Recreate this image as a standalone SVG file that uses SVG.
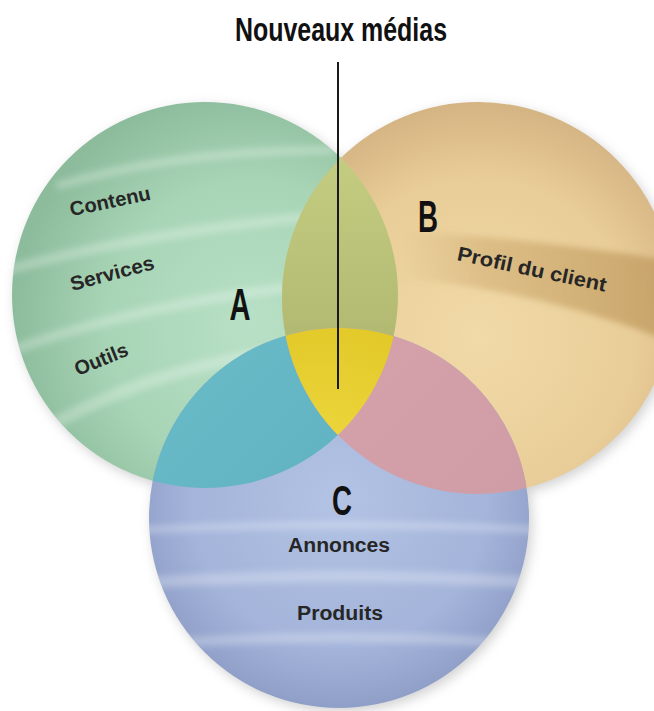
<svg xmlns="http://www.w3.org/2000/svg" width="654" height="711" viewBox="0 0 654 711">
  <style>
    .lbl { font-family: "Liberation Sans", "DejaVu Sans", sans-serif; font-weight: bold; fill: #262626; font-size: 20px; }
    .big { font-family: "Liberation Sans", "DejaVu Sans", sans-serif; font-weight: bold; fill: #111; }
    .band { fill: none; stroke: #ffffff; stroke-opacity: 0.26; stroke-linecap: round; }
  </style>
  <defs>
    <filter id="shadow" x="-20%" y="-20%" width="140%" height="140%">
      <feGaussianBlur stdDeviation="6"/>
    </filter>
    <filter id="soft" x="-20%" y="-50%" width="140%" height="200%">
      <feGaussianBlur stdDeviation="3"/>
    </filter>
    <clipPath id="clipA"><circle cx="205" cy="295" r="193"/></clipPath>
    <clipPath id="clipB"><circle cx="478" cy="298" r="196"/></clipPath>
    <clipPath id="clipC"><circle cx="339" cy="518" r="190"/></clipPath>
    <radialGradient id="gA" cx="0.62" cy="0.58" r="0.62">
      <stop offset="0" stop-color="#b8e0c6"/>
      <stop offset="0.6" stop-color="#a8d5b6"/>
      <stop offset="1" stop-color="#8cbc9c"/>
    </radialGradient>
    <radialGradient id="gB" cx="0.5" cy="0.6" r="0.62">
      <stop offset="0" stop-color="#f1daa8"/>
      <stop offset="0.65" stop-color="#e9cd98"/>
      <stop offset="1" stop-color="#d2b180"/>
    </radialGradient>
    <radialGradient id="gC" cx="0.5" cy="0.45" r="0.6">
      <stop offset="0" stop-color="#b2c3e4"/>
      <stop offset="0.65" stop-color="#a4b4da"/>
      <stop offset="1" stop-color="#8898c2"/>
    </radialGradient>
    <linearGradient id="gAB" x1="0" y1="0" x2="0" y2="1">
      <stop offset="0" stop-color="#c8d284"/>
      <stop offset="0.55" stop-color="#b4bc74"/>
      <stop offset="1" stop-color="#949c5c"/>
    </linearGradient>
    <linearGradient id="gAC" x1="0" y1="0" x2="1" y2="1">
      <stop offset="0" stop-color="#6cbcc8"/>
      <stop offset="1" stop-color="#52a8bc"/>
    </linearGradient>
    <linearGradient id="gBC" x1="0" y1="0" x2="1" y2="1">
      <stop offset="0" stop-color="#d8a4ac"/>
      <stop offset="1" stop-color="#cc9aa4"/>
    </linearGradient>
    <radialGradient id="gABC" cx="0.45" cy="0.45" r="0.7">
      <stop offset="0" stop-color="#f0dc44"/>
      <stop offset="0.7" stop-color="#e2c828"/>
      <stop offset="1" stop-color="#bfae2c"/>
    </radialGradient>
    <linearGradient id="gBand" x1="0" y1="0" x2="1" y2="0">
      <stop offset="0" stop-color="#cca86c" stop-opacity="0"/>
      <stop offset="0.3" stop-color="#cca86c" stop-opacity="0.5"/>
      <stop offset="1" stop-color="#c09c60" stop-opacity="0.85"/>
    </linearGradient>
  </defs>

  <rect width="654" height="711" fill="#ffffff"/>

  <!-- shadows -->
  <g id="shadows" filter="url(#shadow)" fill="#9a9a9a" opacity="0.45">
    <circle cx="208" cy="299" r="193"/>
    <circle cx="481" cy="302" r="196"/>
    <circle cx="342" cy="522" r="190"/>
  </g>

  <g id="node-a">
    <circle cx="205" cy="295" r="193" fill="url(#gA)"/>
    <g clip-path="url(#clipA)" filter="url(#soft)">
      <path class="band" stroke-width="9" d="M 60 185 Q 180 150 330 150"/>
      <path class="band" stroke-width="10" d="M 0 272 Q 140 232 330 215"/>
      <path class="band" stroke-width="10" d="M 0 355 Q 130 305 310 285"/>
      <path class="band" stroke-width="12" d="M 40 432 Q 160 360 330 345"/>
    </g>
  </g>

  <g id="node-b">
    <circle cx="478" cy="298" r="196" fill="url(#gB)"/>
    <g clip-path="url(#clipB)">
      <path d="M 400 232 Q 520 236 680 262 L 680 345 Q 540 290 400 278 Z" fill="url(#gBand)" filter="url(#soft)"/>
    </g>
  </g>

  <g id="node-c">
    <circle cx="339" cy="518" r="190" fill="url(#gC)"/>
    <g clip-path="url(#clipC)" filter="url(#soft)">
      <path class="band" stroke-width="8" d="M 140 530 Q 340 520 540 530"/>
      <path class="band" stroke-width="12" d="M 140 583 Q 340 570 540 583"/>
      <path class="band" stroke-width="10" d="M 140 645 Q 340 630 540 645"/>
    </g>
  </g>

  <!-- overlaps -->
  <g id="overlaps">
    <g clip-path="url(#clipA)">
      <circle cx="478" cy="298" r="196" fill="url(#gAB)"/>
      <circle cx="339" cy="518" r="190" fill="url(#gAC)"/>
    </g>
    <g clip-path="url(#clipB)">
      <circle cx="339" cy="518" r="190" fill="url(#gBC)"/>
    </g>
    <g clip-path="url(#clipA)">
      <g clip-path="url(#clipB)">
        <circle cx="339" cy="518" r="190" fill="url(#gABC)"/>
      </g>
    </g>
  </g>

  <!-- labels -->
  <g id="labels-a">
    <text class="lbl" transform="translate(110,201) rotate(-12)" y="7" text-anchor="middle" textLength="82" lengthAdjust="spacingAndGlyphs">Contenu</text>
    <text class="lbl" transform="translate(112,273) rotate(-15)" y="7" text-anchor="middle" textLength="86" lengthAdjust="spacingAndGlyphs">Services</text>
    <text class="lbl" transform="translate(101,359) rotate(-22)" y="7" text-anchor="middle" textLength="56" lengthAdjust="spacingAndGlyphs">Outils</text>
    <text class="big" x="240" y="320" font-size="44" text-anchor="middle" textLength="21" lengthAdjust="spacingAndGlyphs">A</text>
  </g>
  <g id="labels-b">
    <text class="big" x="428" y="232" font-size="44" text-anchor="middle" textLength="20" lengthAdjust="spacingAndGlyphs">B</text>
    <text class="lbl" transform="translate(532,269) rotate(12)" y="7" text-anchor="middle" textLength="152" lengthAdjust="spacingAndGlyphs">Profil du client</text>
  </g>
  <g id="labels-c">
    <text class="big" x="342" y="515" font-size="42" text-anchor="middle" textLength="20" lengthAdjust="spacingAndGlyphs">C</text>
    <text class="lbl" x="339" y="552" text-anchor="middle" textLength="102" lengthAdjust="spacingAndGlyphs">Annonces</text>
    <text class="lbl" x="340" y="620" text-anchor="middle" textLength="86" lengthAdjust="spacingAndGlyphs">Produits</text>
  </g>

  <g id="connectors">
    <line x1="338" y1="62" x2="338" y2="389" stroke="#1a1a1a" stroke-width="2"/>
  </g>
  <g id="node-nouveaux-medias">
    <text class="big" x="341" y="41" font-size="33" text-anchor="middle" textLength="212" lengthAdjust="spacingAndGlyphs">Nouveaux médias</text>
  </g>
</svg>
